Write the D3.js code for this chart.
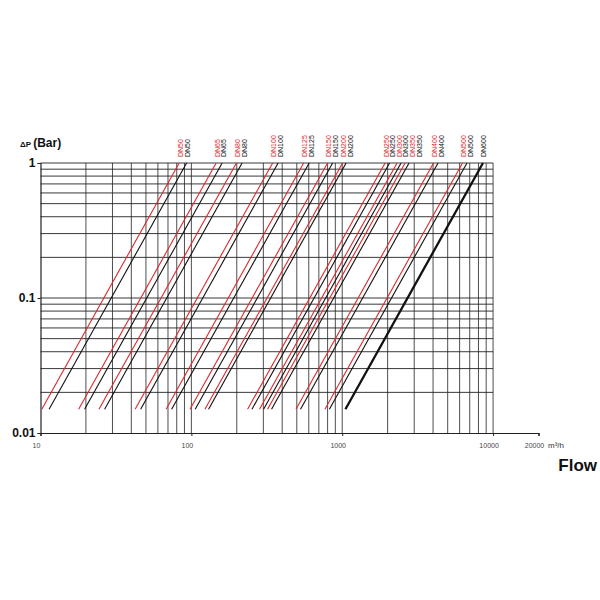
<!DOCTYPE html>
<html>
<head>
<meta charset="utf-8">
<script src="https://cdn.jsdelivr.net/npm/d3@7/dist/d3.min.js"></script>
<style>
  html, body { margin: 0; padding: 0; background: #fff; }
  svg { display: block; font-family: "Liberation Sans", Arial, sans-serif; }
</style>
</head>
<body>
<svg id="chart" width="600" height="600"></svg>
<script>
// ---- data ----
const dnLabels   = ["DN50","DN65","DN80","DN100","DN125","DN150","DN200","DN250","DN300","DN350","DN400","DN500","DN600"];
// flow (m3/h) where each line reaches dP = 1 bar
const redTopFlow    = [83, 146, 199, 346, 555, 800, 1006, 1924, 2310, 2610, 4030, 6270, null];
const blackTopFlow  = [93, 160, 217, 376, 604, 864, 1061, 2060, 2455, 2773, 4316, 6714, 8570];
// flow (m3/h) where each line starts at dP = 0.015 bar
const redBottomFlow   = [10.2, 17.9, 24.4, 42.4, 68.0, 98.0, 123, 236, 283, 320, 494, 768, null];
const blackBottomFlow = [11.4, 19.6, 26.6, 46.1, 74.0, 106, 130, 252, 301, 340, 529, 822, 1050];
const dpEnds = [0.015, 1];

const xTickValues = [10, 100, 1000, 10000, 20000];
const xTickLabels = ["10", "100", "1000", "10000", "20000"];
const yTickValues = [1, 0.1, 0.01];
const yTickLabels = ["1", "0.1", "0.01"];
const xGrid = [20,30,40,50,60,70,80,90,100,200,300,400,500,600,700,800,900,1000,2000,3000,4000,5000,6000,7000,8000,9000,10000];
const yGrid = [0.02,0.03,0.04,0.05,0.06,0.07,0.08,0.09,0.1,0.2,0.3,0.4,0.5,0.6,0.7,0.8,0.9,1];

// ---- scales ----
const svg = d3.select("#chart");
const x = d3.scaleLog().domain([10, 20000]).range([40.5, 538.5]);
const y = d3.scaleLog().domain([0.01, 1]).range([433, 163]);

// grid
const g = svg.append("g");
g.selectAll("line.vg").data(xGrid).join("line")
  .attr("x1", d => x(d)).attr("x2", d => x(d))
  .attr("y1", y(1)).attr("y2", y(0.01))
  .attr("stroke", "#3a3a3a").attr("stroke-width", 0.9);
g.selectAll("line.hg").data(yGrid).join("line")
  .attr("x1", x(10)).attr("x2", x(10000))
  .attr("y1", d => y(d)).attr("y2", d => y(d))
  .attr("stroke", "#222").attr("stroke-width", 0.9);

// axes
const xAxis = d3.axisBottom(x).tickValues(xTickValues).tickSize(3).tickFormat("");
const gx = svg.append("g").attr("transform", `translate(0,${y(0.01)})`).call(xAxis);
gx.select(".domain").attr("stroke", "#222").attr("stroke-width", 1.2);
gx.selectAll(".tick line").attr("stroke", "#222");
svg.append("g").selectAll("text").data(xTickValues).join("text")
  .attr("x", d => x(d) - 4).attr("y", y(0.01) + 15)
  .attr("text-anchor", "middle")
  .attr("font-size", 7).attr("fill", "#444")
  .text((d, i) => xTickLabels[i]);

const yAxis = d3.axisLeft(y).tickValues(yTickValues).tickSize(3).tickFormat("");
const gy = svg.append("g").attr("transform", `translate(${x(10)},0)`).call(yAxis);
gy.select(".domain").attr("stroke", "#222").attr("stroke-width", 1.2);
gy.selectAll(".tick line").attr("stroke", "#222");
svg.append("g").selectAll("text").data(yTickValues).join("text")
  .attr("x", x(10) - 5).attr("y", d => y(d)).attr("dy", "0.36em")
  .attr("text-anchor", "end")
  .attr("font-size", 12).attr("font-weight", "bold").attr("fill", "#111")
  .text((d, i) => yTickLabels[i]);

// axis titles
const yt = svg.append("text").attr("x", 20).attr("y", 147).attr("fill", "#111");
yt.append("tspan").attr("font-size", 8).attr("font-weight", "bold").text("ΔP ");
yt.append("tspan").attr("font-size", 12).attr("font-weight", "bold").text("(Bar)");

svg.append("text").attr("x", 548).attr("y", y(0.01) + 15)
  .attr("font-size", 8).attr("fill", "#333").text("m³/h");
svg.append("text").attr("x", 597).attr("y", 471).attr("text-anchor", "end")
  .attr("font-size", 17).attr("font-weight", "bold").attr("fill", "#111").text("Flow");

// ---- curves ----
const series = [];
dnLabels.forEach((dn, i) => {
  if (redTopFlow[i] != null) series.push({dn, color: "#e0272b", w: 1.1, top: redTopFlow[i], bottom: redBottomFlow[i]});
  series.push({dn, color: "#111", w: dn === "DN600" ? 2.3 : 1.1, top: blackTopFlow[i], bottom: blackBottomFlow[i]});
});
series.sort((a, b) => a.top - b.top);

svg.append("g").selectAll("line").data(series).join("line")
  .attr("x1", d => x(d.bottom)).attr("y1", y(dpEnds[0]))
  .attr("x2", d => x(d.top)).attr("y2", y(dpEnds[1]))
  .attr("stroke", d => d.color).attr("stroke-width", d => d.w);

// labels: spread to avoid overlap
let last = -Infinity;
series.forEach(s => {
  let lx = x(s.top) + 1;
  if (lx < last + 6.6) lx = last + 6.6;
  s.lx = lx; last = lx;
});
svg.append("g").selectAll("text").data(series).join("text")
  .attr("transform", d => `translate(${d.lx},157) rotate(-90)`)
  .attr("dy", "0.35em")
  .attr("font-size", 7).attr("fill", d => d.color === "#111" ? "#111" : "#e0272b")
  .text(d => d.dn);
</script>
</body>
</html>
